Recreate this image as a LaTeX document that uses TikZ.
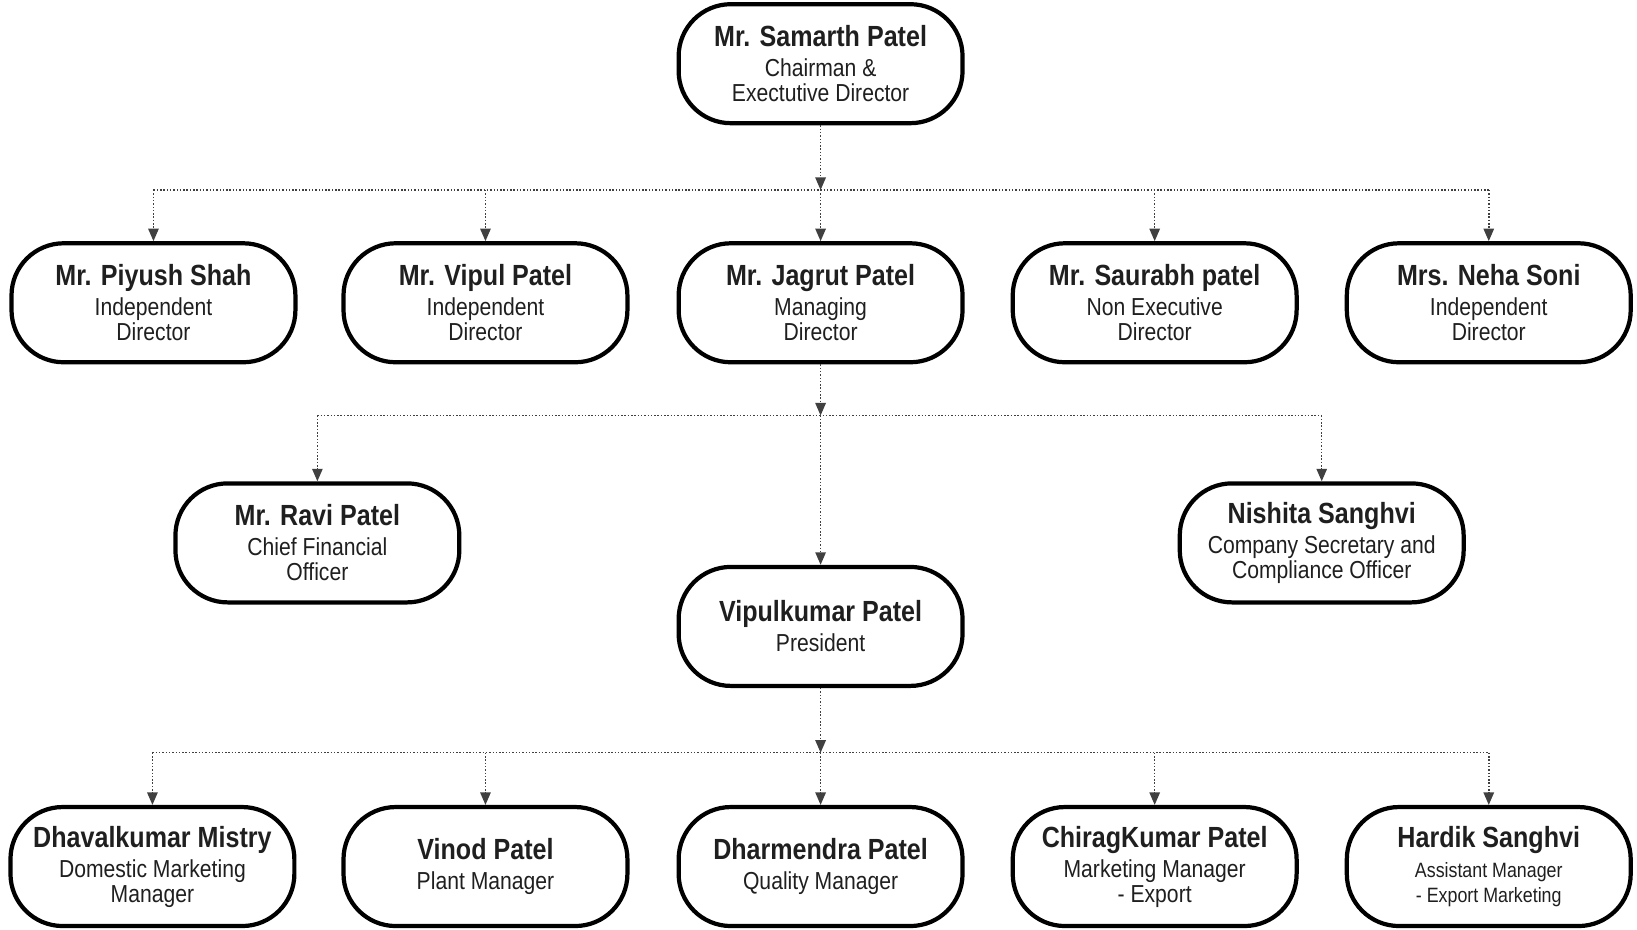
\documentclass[tikz,border=0pt]{standalone}
\usepackage{fontspec}
\setmainfont[FakeStretch=0.86]{Liberation Sans}
\usetikzlibrary{arrows.meta}
\newcommand{\pname}{\fontsize{15.9}{18}\selectfont\bfseries}
\newcommand{\psmall}{\fontsize{11.3}{11.4}\selectfont}
\begin{document}
\begin{tikzpicture}[x=0.02cm,y=-0.02cm,
    box/.style={draw, line width=2.3pt, rounded corners=1cm, minimum width=5.44cm,
      minimum height=2.28cm, align=center, text=black!88,
      font=\fontsize{13.4}{13.6}\selectfont},
    link/.style={densely dotted, line width=0.8pt, black!75},
    arr/.style={link, -{Triangle[length=0.24cm, width=0.2cm]}}]
\useasboundingbox (0,0) rectangle (1568,890);
% top
    \node (samarth) at (786,61) [box] {{\pname Mr. Samarth Patel}\\[2.8pt]Chairman \&\\Exectutive Director};
% board
    \node (piyush) at (147,290) [box] {{\pname Mr. Piyush Shah}\\[2.8pt]Independent\\Director};
    \node (vipul) at (465,290) [box] {{\pname Mr. Vipul Patel}\\[2.8pt]Independent\\Director};
    \node (jagrut) at (786,290) [box] {{\pname Mr. Jagrut Patel}\\[2.8pt]Managing\\Director};
    \node (saurabh) at (1106,290) [box] {{\pname Mr. Saurabh patel}\\[2.8pt]Non Executive\\Director};
    \node (neha) at (1426,290) [box] {{\pname Mrs. Neha Soni}\\[2.8pt]Independent\\Director};
% officers
    \node (ravi) at (304,520) [box] {{\pname Mr. Ravi Patel}\\[2.8pt]Chief Financial\\Officer};
    \node (nishita) at (1266,520) [box] {{\pname Nishita Sanghvi}\\[2.8pt]Company Secretary and\\Compliance Officer};
    \node (vipulk) at (786,600) [box] {{\pname Vipulkumar Patel}\\[2.8pt]President};
% managers
    \node (dhaval) at (146,830) [box] {{\pname Dhavalkumar Mistry}\\[2.8pt]Domestic Marketing\\Manager};
    \node (vinod) at (465,830) [box] {{\pname Vinod Patel}\\[2.8pt]Plant Manager};
    \node (dharmendra) at (786,830) [box] {{\pname Dharmendra Patel}\\[2.8pt]Quality Manager};
    \node (chirag) at (1106,830) [box] {{\pname ChiragKumar Patel}\\[2.8pt]Marketing Manager\\- Export};
    \node (hardik) at (1426,830) [box] {{\pname Hardik Sanghvi}\\[3pt]{\psmall Assistant Manager}\\{\psmall - Export Marketing}};
% buses
    \coordinate (bus1) at (786,182);
    \coordinate (bus2) at (786,398);
    \coordinate (bus3) at (786,721);
\draw[arr] (samarth) -- (bus1);
\draw[link] (piyush |- bus1) -- (neha |- bus1);
\foreach \n in {piyush,vipul,jagrut,saurabh,neha}
  \draw[arr] (\n |- bus1) -- (\n);
\draw[arr] (jagrut) -- (bus2);
\draw[link] (ravi |- bus2) -- (nishita |- bus2);
\foreach \n in {ravi,vipulk,nishita}
  \draw[arr] (\n |- bus2) -- (\n);
\draw[arr] (vipulk) -- (bus3);
\draw[link] (dhaval |- bus3) -- (hardik |- bus3);
\foreach \n in {dhaval,vinod,dharmendra,chirag,hardik}
  \draw[arr] (\n |- bus3) -- (\n);
\end{tikzpicture}
\end{document}
